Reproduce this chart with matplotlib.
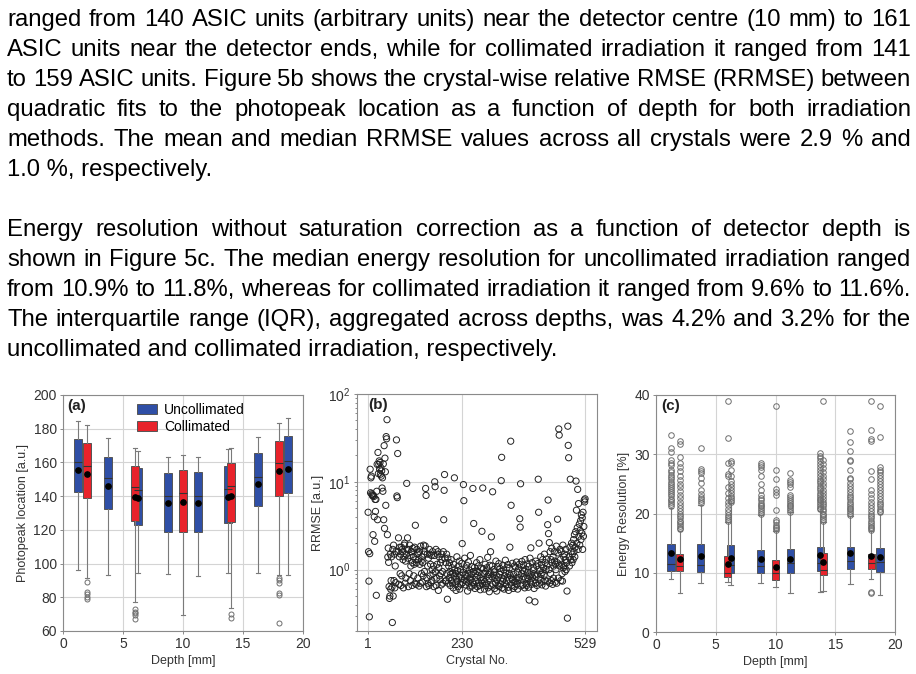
import matplotlib
matplotlib.use("Agg")
import matplotlib.pyplot as plt
from matplotlib.patches import Patch
import numpy as np

plt.rcParams['font.family'] = ['Liberation Sans', 'DejaVu Sans']
plt.rcParams['mathtext.fontset'] = 'custom'
plt.rcParams['mathtext.rm'] = 'Liberation Sans'
plt.rcParams['mathtext.it'] = 'Liberation Sans:italic'
plt.rcParams['mathtext.bf'] = 'Liberation Sans:bold'

# ---- text above the figure ----
para1 = [
    "ranged from 140 ASIC units (arbitrary units) near the detector centre (10 mm) to 161",
    "ASIC units near the detector ends, while for collimated irradiation it ranged from 141",
    "to 159 ASIC units. Figure 5b shows the crystal-wise relative RMSE (RRMSE) between",
    "quadratic fits to the photopeak location as a function of depth for both irradiation",
    "methods. The mean and median RRMSE values across all crystals were 2.9 % and",
    "1.0 %, respectively.",
]
para2 = [
    "Energy resolution without saturation correction as a function of detector depth is",
    "shown in Figure 5c. The median energy resolution for uncollimated irradiation ranged",
    "from 10.9% to 11.8%, whereas for collimated irradiation it ranged from 9.6% to 11.6%.",
    "The interquartile range (IQR), aggregated across depths, was 4.2% and 3.2% for the",
    "uncollimated and collimated irradiation, respectively.",
]

# ---- (a) photopeak location vs depth ----
depth_unc = [1.25, 3.75, 6.25, 8.75, 11.25, 13.75, 16.25, 18.75]
depth_col = [2, 6, 10, 14, 18]

pp_unc_lo = [96.0, 93.2, 94.6, 93.8, 92.8, 94.2, 94.2, 93.2]
pp_unc_q1 = [142.3, 132.2, 122.9, 118.9, 118.9, 123.9, 134.2, 141.7]
pp_unc_med = [160.3, 150.6, 143.6, 140.1, 140.1, 144.0, 151.2, 160.8]
pp_unc_q3 = [174.1, 163.4, 156.5, 153.5, 154.1, 157.9, 165.6, 175.7]
pp_unc_hi = [184.8, 174.3, 166.8, 163.0, 163.0, 167.8, 174.9, 186.4]
pp_unc_mean = [155.5, 146.0, 139.1, 135.7, 136.1, 139.7, 147.2, 155.9]
pp_unc_fliers = [[], [], [], [], [], [], [], []]

pp_col_lo = [91.2, 77.4, 69.5, 73.4, 93.0]
pp_col_q1 = [138.7, 125.3, 118.9, 124.9, 140.1]
pp_col_med = [157.9, 145.4, 141.7, 146.0, 159.5]
pp_col_q3 = [171.3, 158.1, 155.5, 159.5, 172.5]
pp_col_hi = [182.2, 168.8, 164.4, 168.6, 183.2]
pp_col_mean = [153.1, 139.3, 136.3, 140.1, 154.9]
pp_col_fliers = [[89.3, 83.3, 82.0, 80.4, 79.2],
                 [72.8, 71.5, 70.5, 69.5, 67.1],
                 [],
                 [69.9, 67.9],
                 [91.5, 90.0, 88.7, 82.3, 81.2, 64.5]]

# ---- (b) RRMSE per crystal ----
crystal = np.arange(1, 530)
rrmse = [
    4.5, 1.6, 0.74, 0.29, 1.52, 13.9, 7.5, 11.1, 11.6, 7.3, 7.1, 6.9, 2.5, 7.0, 6.8, 4.0, 2.1, 6.3, 4.6, 6.3,
    0.51, 7.8, 15.8, 3.7, 21.6, 12.4, 15.8, 17.3, 13.9, 16.6, 12.2, 14.5, 11.6, 13.3, 8.5, 11.1, 7.8, 16.0, 3.7, 25.8,
    2.95, 18.6, 13.0, 5.4, 32.7, 30.9, 51.0, 2.5, 1.39, 1.76, 1.21, 0.64, 0.47, 0.5, 1.5, 0.6, 0.75,
    1.4, 0.63, 0.25, 1.7, 0.5, 1.9, 0.75, 1.5, 0.62, 1.1, 0.71, 1.6, 30, 6.9, 6.6, 21, 1.6, 2.3, 0.68, 1.4,
    1.8, 0.9, 1.5, 0.66, 1.8, 0.85, 1.7, 1.6, 1.3, 0.62, 1.4, 1.9, 2.0, 0.7, 1.25, 0.8, 1.5, 9.6, 1.7, 2.3,
    1.35, 0.64, 1.7, 0.9, 1.9, 1.45, 0.75, 1.1, 1.6, 1.6, 0.66, 1.2, 1.75, 1.4, 0.85, 1.15, 1.8, 0.7, 3.2, 1.3,
    0.68, 1.2, 1.7, 1.5, 0.8, 1.55, 1.3, 0.65, 1.6, 1.15, 0.7, 1.85, 1.25, 0.9, 1.4, 0.72, 1.2, 0.85, 1.9, 1.5,
    0.95, 1.6, 1.86, 8.4, 7.0, 0.64, 0.8, 1.5, 1.1, 0.7, 1.35, 0.66, 1.7, 1.5, 0.85, 1.15, 0.71, 1.45, 0.75, 1.0,
    1.6, 0.9, 1.1, 0.64, 1.45, 10.0, 8.8, 0.95, 1.7, 0.66, 0.8, 1.15, 1.5, 1.6, 0.58, 1.05, 1.4, 0.85, 0.77, 1.2,
    0.9, 0.67, 1.5, 1.3, 0.95, 0.7, 1.6, 3.7, 8.0, 12.1, 1.35, 0.74, 1.2, 0.75, 1.5, 0.9, 0.46, 1.35, 0.7, 1.1,
    0.8, 1.2, 0.95, 0.66, 0.88, 1.3, 0.75, 1.05, 0.7, 0.92, 0.62, 1.15, 0.84, 11.1, 1.0, 0.69, 0.9, 0.58, 0.78, 1.4,
    0.73, 0.97, 0.64, 1.1, 0.82, 1.25, 0.6, 0.87, 1.0, 0.68, 0.79, 1.18, 1.98, 0.71, 0.93, 9.3, 6.1, 0.76, 1.35, 0.86,
    0.67, 1.02, 0.74, 1.12, 0.83, 0.57, 0.91, 1.22, 0.7, 0.99, 0.8, 0.63, 1.45, 0.77, 0.88, 1.08, 0.65, 0.72, 8.4, 0.95,
    3.35, 0.68, 1.06, 0.61, 0.9, 0.74, 0.82, 1.2, 0.96, 0.64, 0.86, 1.1, 0.71, 0.93, 0.66, 1.3, 0.59, 0.81, 0.75, 1.04,
    2.73, 0.7, 8.5, 1.02, 0.77, 0.9, 0.6, 0.73, 1.15, 0.95, 0.66, 0.69, 1.05, 0.84, 1.38, 0.62, 0.88, 0.79, 0.56, 1.12,
    0.92, 1.6, 0.65, 2.36, 0.83, 1.1, 7.7, 0.68, 0.87, 1.0, 0.94, 0.61, 0.8, 0.7, 1.25, 0.86, 0.57, 0.76, 1.08, 0.66,
    0.82, 1.17, 0.64, 0.89, 1.03, 0.69, 0.95, 10.3, 19, 0.62, 0.74, 1.12, 0.78, 0.99, 0.6, 0.85, 0.7, 1.28, 0.91, 0.67,
    0.75, 1.06, 0.82, 1.14, 0.63, 0.58, 0.9, 1.04, 1.8, 0.86, 29, 5.4, 0.66, 0.8, 1.18, 0.77, 0.61, 0.88, 0.72, 1.1,
    0.64, 0.73, 1.07, 0.79, 1.22, 0.68, 0.94, 0.6, 0.76, 1.02, 0.81, 1.15, 3.8, 3.05, 9.5, 0.65, 0.9, 1.24, 0.78, 0.98,
    0.67, 1.13, 0.83, 0.96, 0.62, 1.3, 0.79, 1.01, 0.69, 0.66, 1.16, 0.93, 0.8, 0.63, 1.09, 0.45, 0.84, 1.35, 0.72, 1.77,
    0.88, 0.68, 1.2, 0.82, 0.74, 1.06, 0.99, 0.61, 0.87, 0.43, 0.7, 1.25, 0.83, 1.1, 0.66, 0.89, 1.17, 10.7, 4.5, 2.0,
    0.7, 0.97, 0.78, 1.4, 0.88, 1.14, 0.67, 0.93, 1.3, 0.73, 1.05, 0.86, 1.5, 0.76, 1.2, 0.65, 1.0, 1.32, 1.1, 0.74,
    3.25, 6.2, 2.57, 1.0, 2.03, 0.7, 1.6, 0.9, 1.3, 0.75, 1.75, 1.2, 0.68, 1.4, 0.8, 1.1, 1.6, 1.25, 0.72, 1.15,
    1.0, 1.85, 0.7, 1.2, 3.75, 1.55, 0.8, 40, 34, 1.1, 1.7, 1.3, 0.75, 1.6, 1.15, 0.9, 0.74, 1.9, 1.05, 1.4,
    1.1, 1.5, 0.95, 1.3, 1.7, 1.0, 1.2, 0.57, 0.28, 43, 26, 18.8, 1.4, 1.1, 1.8, 10.7, 1.3, 1.6, 2.0, 1.2,
    1.5, 1.9, 1.3, 2.2, 1.6, 2.5, 1.4, 1.8, 2.7, 10.2, 4.75, 2.0, 3.0, 8.2, 1.7, 5.65, 2.4, 3.3, 1.9, 2.8,
    3.6, 2.2, 4.2, 2.6, 3.9, 1.7, 4.5, 2.4, 3.1, 6.2, 5.9, 6.4,
]

# ---- (c) energy resolution vs depth ----
er_unc_lo = [9.0, 8.2, 7.9, 8.2, 6.5, 6.8, 8.1, 6.3]
er_unc_q1 = [10.3, 10.1, 9.9, 10.0, 10.0, 10.3, 10.7, 10.1]
er_unc_med = [11.4, 11.3, 11.3, 11.1, 11.7, 11.6, 11.9, 11.8]
er_unc_q3 = [14.8, 14.8, 14.6, 13.8, 14.0, 14.3, 14.3, 14.1]
er_unc_hi = [21.0, 21.5, 21.8, 19.8, 20.2, 20.5, 19.5, 20.0]
er_unc_mean = [13.3, 12.9, 12.5, 12.35, 12.4, 13.0, 13.3, 12.7]
er_unc_fliers = [
    [21.3, 21.6, 21.9, 22.2, 22.5, 22.9, 23.3, 23.6, 24.0, 24.3, 24.7, 25.0, 25.4, 25.8, 26.1, 26.5,
     27.0, 27.4, 28.2, 28.6, 29.0, 30.3, 31.1, 33.2],
    [21.8, 22.1, 22.4, 22.8, 23.3, 23.9, 25.1, 26.0, 26.9, 27.2, 27.5, 31.0],
    [22.0, 22.3, 22.6, 23.0, 23.4, 23.9, 24.4, 25.0, 25.5, 26.4, 27.3, 28.5, 28.9],
    [20.0, 20.3, 20.6, 20.9, 21.2, 21.5, 21.8, 22.2, 22.6, 23.2, 24.0, 24.9, 26.4, 27.3, 27.8, 28.2, 28.5],
    [20.3, 20.6, 20.9, 21.2, 21.5, 21.8, 22.1, 22.4, 22.8, 23.2, 24.5, 24.9, 25.3, 25.6, 26.9],
    [20.8, 21.0, 21.3, 21.6, 21.9, 22.2, 22.5, 22.8, 23.1, 23.5, 23.9, 24.3, 24.7, 25.1, 25.5, 25.9,
     26.3, 26.8, 27.3, 27.8, 28.3, 28.8, 29.3, 29.7, 30.2],
    [19.8, 20.1, 20.4, 20.7, 21.0, 21.3, 21.6, 22.0, 22.4, 22.8, 23.2, 23.6, 24.1, 24.6, 25.2, 25.8,
     26.0, 27.3, 28.8, 29.1, 30.6, 32.1, 33.9],
    [20.2, 20.5, 20.8, 21.2, 21.6, 22.0, 22.5, 23.0, 23.5, 24.0, 24.5, 25.0, 25.5, 26.0, 26.5, 27.0,
     27.4, 27.8, 32.9, 38.1],
]

er_col_lo = [6.6, 8.4, 7.6, 6.9, 9.0]
er_col_q1 = [10.25, 9.2, 8.7, 9.6, 10.7]
er_col_med = [11.15, 10.0, 9.9, 10.4, 11.7]
er_col_q3 = [13.1, 12.85, 12.1, 13.3, 13.2]
er_col_hi = [17.0, 18.5, 17.0, 18.6, 17.0]
er_col_mean = [12.3, 11.4, 10.9, 11.8, 12.75]
er_col_fliers = [
    [17.3, 17.6, 17.9, 18.2, 18.5, 18.8, 19.2, 19.6, 20.0, 20.5, 21.0, 21.5, 22.0, 22.6, 23.2, 23.8,
     24.4, 25.0, 25.7, 26.4, 27.1, 27.8, 28.5, 29.5, 31.7, 32.2],
    [18.8, 19.1, 19.4, 19.8, 20.3, 20.8, 21.4, 22.0, 22.7, 23.5, 24.4, 26.3, 26.6, 28.6, 32.8, 39.0],
    [17.2, 17.5, 17.8, 18.1, 18.5, 18.9, 20.6, 23.2, 23.7, 24.2, 25.9, 27.4, 38.2],
    [18.8, 19.1, 19.4, 19.7, 20.0, 20.4, 20.8, 21.2, 21.6, 22.0, 22.5, 23.0, 23.5, 24.0, 24.6, 25.2,
     25.8, 26.4, 27.0, 27.7, 28.4, 29.0, 39.0],
    [6.5, 6.7, 17.2, 17.5, 17.8, 18.1, 18.4, 18.8, 19.2, 19.6, 20.0, 20.5, 21.0, 21.5, 22.0, 22.6,
     23.3, 24.0, 25.8, 27.1, 32.2, 32.5, 34.1, 39.0],
]

BLUE = '#2f4fa6'
RED = '#e8232b'
GRID = '#d4d4d4'
SPINE = '#8a8a8a'

W, H = 916, 674
fig = plt.figure(figsize=(W / 100, H / 100), dpi=100)
renderer = fig.canvas.get_renderer()

FS = 17.2
LEFT, RIGHT = 7, 911


def put_line(line, y_px, justify):
    y = 1 - y_px / H
    if not justify:
        fig.text(LEFT / W, y, line, fontsize=FS, va='baseline', ha='left', color='black')
        return
    words = line.split()
    objs = [fig.text(0, y, w, fontsize=FS, va='baseline', ha='left', color='black') for w in words]
    widths = [o.get_window_extent(renderer).width for o in objs]
    gap = (RIGHT - LEFT - sum(widths)) / (len(words) - 1)
    x = LEFT
    for o, wd in zip(objs, widths):
        o.set_x(x / W)
        x += wd + gap


BASE0, STEP = 26, 30.0
for i, line in enumerate(para1):
    put_line(line, BASE0 + STEP * i, i < len(para1) - 1)
for i, line in enumerate(para2):
    put_line(line, BASE0 + STEP * (i + 7), i < len(para2) - 1)


def make_stats(lo, q1, med, q3, hi, mean, fliers):
    return [dict(whislo=a, q1=b, med=c, q3=d, whishi=e, mean=f, fliers=g)
            for a, b, c, d, e, f, g in zip(lo, q1, med, q3, hi, mean, fliers)]


def style_axes(ax):
    for s in ax.spines.values():
        s.set_color(SPINE)
        s.set_linewidth(0.8)
    ax.tick_params(which='both', direction='out', color=SPINE, labelsize=10,
                   labelcolor='#333333', length=2.5, width=0.7, pad=2)
    ax.grid(True, which='major', color=GRID, linewidth=0.8)
    ax.set_axisbelow(True)


def draw_boxes(ax, stats, pos, color, fms):
    ax.bxp(stats, positions=pos, widths=0.6, capwidths=0.4, patch_artist=True, showmeans=True,
           boxprops=dict(facecolor=color, edgecolor='#555555', linewidth=0.7),
           medianprops=dict(color='#333333', linewidth=0.8),
           whiskerprops=dict(color='#7a7a7a', linewidth=0.8),
           capprops=dict(color='#7a7a7a', linewidth=0.8),
           meanprops=dict(marker='o', markerfacecolor='black', markeredgecolor='black', markersize=3.8),
           flierprops=dict(marker='o', markerfacecolor='none', markeredgecolor='#6e6e6e',
                           markersize=fms, markeredgewidth=0.7))


def px_axes(x0, y0, x1, y1):
    return fig.add_axes([x0 / W, 1 - y1 / H, (x1 - x0) / W, (y1 - y0) / H])


# panel (a)
ax1 = px_axes(63, 395, 303, 631)
style_axes(ax1)
draw_boxes(ax1, make_stats(pp_unc_lo, pp_unc_q1, pp_unc_med, pp_unc_q3, pp_unc_hi, pp_unc_mean, pp_unc_fliers),
           depth_unc, BLUE, 3.6)
draw_boxes(ax1, make_stats(pp_col_lo, pp_col_q1, pp_col_med, pp_col_q3, pp_col_hi, pp_col_mean, pp_col_fliers),
           depth_col, RED, 3.6)
ax1.set_xlim(0, 20)
ax1.set_ylim(60, 200)
ax1.set_xticks([0, 5, 10, 15, 20])
ax1.set_xticklabels(['0', '5', '10', '15', '20'])
ax1.set_yticks(np.arange(60, 201, 20))
ax1.set_xlabel('Depth [mm]', fontsize=9, color='#333333', labelpad=3)
ax1.set_ylabel('Photopeak location [a.u.]', fontsize=9, color='#333333', labelpad=3)
ax1.text(0.017, 0.955, '(a)', transform=ax1.transAxes, fontsize=11, fontweight='bold',
         va='center', ha='left', color='#222222')
ax1.legend(handles=[Patch(facecolor=BLUE, edgecolor='#555555', linewidth=0.7, label='Uncollimated'),
                    Patch(facecolor=RED, edgecolor='#555555', linewidth=0.7, label='Collimated')],
           loc='upper left', bbox_to_anchor=(0.26, 1.015), frameon=False, fontsize=10,
           handlelength=1.5, handleheight=0.75, handletextpad=0.5, labelspacing=0.25, borderpad=0.3)

# panel (b)
ax2 = px_axes(357, 394, 597, 631)
style_axes(ax2)
ax2.scatter(crystal, rrmse, s=20, facecolors='none', edgecolors='#222222', linewidths=0.7, zorder=3)
ax2.set_yscale('log')
ax2.set_xlim(-26, 558)
ax2.set_ylim(0.2, 100)
ax2.set_xticks([1, 230, 529])
ax2.set_xticklabels(['1', '230', '529'])
ax2.set_xlabel('Crystal No.', fontsize=9, color='#333333', labelpad=3)
ax2.set_ylabel('RRMSE [a.u.]', fontsize=9, color='#333333', labelpad=3)
ax2.tick_params(which='minor', length=1.8)
ax2.text(0.046, 0.955, '(b)', transform=ax2.transAxes, fontsize=11, fontweight='bold',
         va='center', ha='left', color='#222222')

# panel (c)
ax3 = px_axes(656, 395, 895, 632)
style_axes(ax3)
draw_boxes(ax3, make_stats(er_unc_lo, er_unc_q1, er_unc_med, er_unc_q3, er_unc_hi, er_unc_mean, er_unc_fliers),
           depth_unc, BLUE, 4.0)
draw_boxes(ax3, make_stats(er_col_lo, er_col_q1, er_col_med, er_col_q3, er_col_hi, er_col_mean, er_col_fliers),
           depth_col, RED, 4.0)
ax3.set_xlim(0, 20)
ax3.set_ylim(0, 40)
ax3.set_xticks([0, 5, 10, 15, 20])
ax3.set_xticklabels(['0', '5', '10', '15', '20'])
ax3.set_yticks([0, 10, 20, 30, 40])
ax3.set_xlabel('Depth [mm]', fontsize=9, color='#333333', labelpad=3)
ax3.set_ylabel('Energy Resolution [%]', fontsize=9, color='#333333', labelpad=3)
ax3.text(0.02, 0.955, '(c)', transform=ax3.transAxes, fontsize=11, fontweight='bold',
         va='center', ha='left', color='#222222')

fig.savefig('out.png', dpi=100)
